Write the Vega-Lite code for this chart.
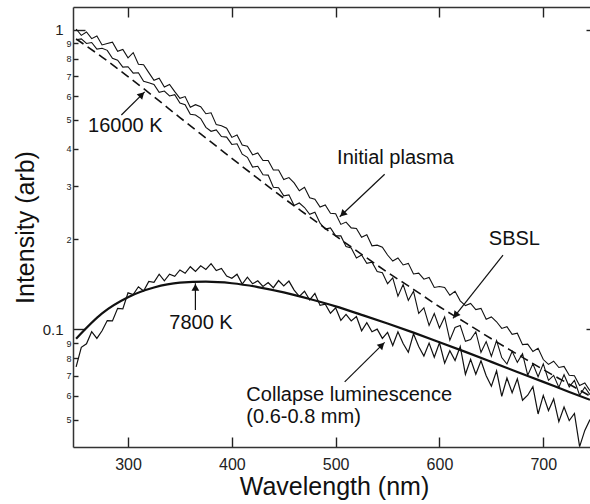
{
 "$schema": "https://vega.github.io/schema/vega-lite/v6.json",
 "width": 517, "height": 440,
 "autosize": {"type": "none"},
 "padding": {"left": 73, "top": 7, "right": 0, "bottom": 57},
 "config": {"view": {"stroke": null}, "font": "Liberation Sans",
  "axis": {"domainColor": "#333", "tickColor": "#222", "labelColor": "#222", "titleColor": "#111", "grid": false, "labelFont": "Liberation Sans", "titleFont": "Liberation Sans", "titleFontWeight": "normal", "domainWidth": 1.5, "tickWidth": 1.4}},
 "datasets": {
  "spec": [
   {"x":250,"ip":1.005,"sb":0.925,"cl":0.0750},{"x":255,"ip":0.957,"sb":0.931,"cl":0.0871},{"x":260,"ip":0.982,"sb":0.899,"cl":0.0895},{"x":265,"ip":0.933,"sb":0.906,"cl":0.0982},{"x":270,"ip":0.953,"sb":0.861,"cl":0.0933},{"x":275,"ip":0.889,"sb":0.867,"cl":0.0989},{"x":280,"ip":0.899,"sb":0.853,"cl":0.107},{"x":285,"ip":0.908,"sb":0.802,"cl":0.1067},{"x":290,"ip":0.847,"sb":0.791,"cl":0.1175},{"x":295,"ip":0.859,"sb":0.750,"cl":0.117},
   {"x":300,"ip":0.805,"sb":0.752,"cl":0.1324},{"x":305,"ip":0.838,"sb":0.716,"cl":0.1306},{"x":310,"ip":0.766,"sb":0.718,"cl":0.1387},{"x":315,"ip":0.764,"sb":0.673,"cl":0.1343},{"x":320,"ip":0.719,"sb":0.665,"cl":0.1445},{"x":325,"ip":0.678,"sb":0.656,"cl":0.1435},{"x":330,"ip":0.689,"sb":0.618,"cl":0.1528},{"x":335,"ip":0.644,"sb":0.624,"cl":0.1452},{"x":340,"ip":0.656,"sb":0.601,"cl":0.1528},{"x":345,"ip":0.621,"sb":0.607,"cl":0.1503},
   {"x":350,"ip":0.590,"sb":0.569,"cl":0.1578},{"x":355,"ip":0.598,"sb":0.562,"cl":0.1538},{"x":360,"ip":0.551,"sb":0.522,"cl":0.1618},{"x":365,"ip":0.562,"sb":0.519,"cl":0.156},{"x":370,"ip":0.553,"sb":0.505,"cl":0.163},{"x":375,"ip":0.524,"sb":0.472,"cl":0.1585},{"x":380,"ip":0.528,"sb":0.458,"cl":0.1656},{"x":385,"ip":0.482,"sb":0.463,"cl":0.157},{"x":390,"ip":0.478,"sb":0.440,"cl":0.1596},{"x":395,"ip":0.469,"sb":0.438,"cl":0.1507},
   {"x":400,"ip":0.437,"sb":0.414,"cl":0.148},{"x":405,"ip":0.445,"sb":0.416,"cl":0.1528},{"x":410,"ip":0.412,"sb":0.384,"cl":0.1416},{"x":415,"ip":0.408,"sb":0.375,"cl":0.1493},{"x":420,"ip":0.382,"sb":0.348,"cl":0.1419},{"x":425,"ip":0.388,"sb":0.350,"cl":0.1452},{"x":430,"ip":0.366,"sb":0.328,"cl":0.139},{"x":435,"ip":0.366,"sb":0.327,"cl":0.1432},{"x":440,"ip":0.340,"sb":0.298,"cl":0.1377},{"x":445,"ip":0.340,"sb":0.297,"cl":0.1455},
   {"x":450,"ip":0.316,"sb":0.279,"cl":0.1396},{"x":455,"ip":0.321,"sb":0.281,"cl":0.1449},{"x":460,"ip":0.308,"sb":0.259,"cl":0.1352},{"x":465,"ip":0.290,"sb":0.264,"cl":0.1288},{"x":470,"ip":0.298,"sb":0.255,"cl":0.134},{"x":475,"ip":0.275,"sb":0.242,"cl":0.1253},{"x":480,"ip":0.272,"sb":0.246,"cl":0.1318},{"x":485,"ip":0.256,"sb":0.226,"cl":0.1202},{"x":490,"ip":0.260,"sb":0.216,"cl":0.1213},{"x":495,"ip":0.244,"sb":0.218,"cl":0.1132},
   {"x":500,"ip":0.243,"sb":0.205,"cl":0.118},{"x":505,"ip":0.224,"sb":0.205,"cl":0.1072},{"x":510,"ip":0.228,"sb":0.189,"cl":0.1122},{"x":515,"ip":0.218,"sb":0.187,"cl":0.1067},{"x":520,"ip":0.217,"sb":0.173,"cl":0.1104},{"x":525,"ip":0.203,"sb":0.177,"cl":0.0989},{"x":530,"ip":0.207,"sb":0.166,"cl":0.1052},{"x":535,"ip":0.190,"sb":0.1675,"cl":0.0982},{"x":540,"ip":0.191,"sb":0.156,"cl":0.1002},{"x":545,"ip":0.188,"sb":0.1545,"cl":0.0933},
   {"x":550,"ip":0.177,"sb":0.142,"cl":0.0977},{"x":555,"ip":0.169,"sb":0.1486,"cl":0.0883},{"x":560,"ip":0.173,"sb":0.129,"cl":0.0982},{"x":565,"ip":0.164,"sb":0.141,"cl":0.0897},{"x":570,"ip":0.166,"sb":0.125,"cl":0.0839},{"x":575,"ip":0.153,"sb":0.134,"cl":0.0966},{"x":580,"ip":0.154,"sb":0.113,"cl":0.0877},{"x":585,"ip":0.147,"sb":0.118,"cl":0.0815},{"x":590,"ip":0.149,"sb":0.103,"cl":0.0900},{"x":595,"ip":0.138,"sb":0.113,"cl":0.0807},
   {"x":600,"ip":0.139,"sb":0.101,"cl":0.0902},{"x":605,"ip":0.138,"sb":0.110,"cl":0.0771},{"x":610,"ip":0.130,"sb":0.092,"cl":0.0849},{"x":615,"ip":0.134,"sb":0.1014,"cl":0.0787},{"x":620,"ip":0.1245,"sb":0.103,"cl":0.0877},{"x":625,"ip":0.120,"sb":0.0912,"cl":0.0708},{"x":630,"ip":0.122,"sb":0.0925,"cl":0.0794},{"x":635,"ip":0.1164,"sb":0.0982,"cl":0.0708},{"x":640,"ip":0.1175,"sb":0.0838,"cl":0.0786},{"x":645,"ip":0.108,"sb":0.0910,"cl":0.0700},
   {"x":650,"ip":0.110,"sb":0.0813,"cl":0.0646},{"x":655,"ip":0.106,"sb":0.0918,"cl":0.0727},{"x":660,"ip":0.1007,"sb":0.0805,"cl":0.0598},{"x":665,"ip":0.102,"sb":0.0766,"cl":0.0688},{"x":670,"ip":0.0962,"sb":0.0845,"cl":0.0615},{"x":675,"ip":0.0971,"sb":0.0776,"cl":0.0684},{"x":680,"ip":0.0889,"sb":0.0830,"cl":0.0580},{"x":685,"ip":0.0893,"sb":0.0703,"cl":0.0603},{"x":690,"ip":0.0843,"sb":0.0767,"cl":0.0644},{"x":695,"ip":0.0865,"sb":0.0695,"cl":0.0522},
   {"x":700,"ip":0.0793,"sb":0.0767,"cl":0.0602},{"x":705,"ip":0.0764,"sb":0.0676,"cl":0.0536},{"x":710,"ip":0.0783,"sb":0.0702,"cl":0.0586},{"x":715,"ip":0.0746,"sb":0.0640,"cl":0.0492},{"x":720,"ip":0.0752,"sb":0.0706,"cl":0.0551},{"x":725,"ip":0.0703,"sb":0.0643,"cl":0.0496},{"x":730,"ip":0.0700,"sb":0.0676,"cl":0.0524},{"x":735,"ip":0.0650,"sb":0.0603,"cl":0.0406},{"x":740,"ip":0.0662,"sb":0.0641,"cl":0.0460},{"x":745,"ip":0.0624,"sb":0.0605,"cl":0.0500}
  ],
  "bb": [
   {"x":250,"t16":0.931,"t78":0.0931},{"x":275,"t16":0.810,"t78":0.1131},{"x":300,"t16":0.697,"t78":0.1280},{"x":325,"t16":0.597,"t78":0.1379},{"x":350,"t16":0.509,"t78":0.1431},{"x":375,"t16":0.435,"t78":0.1442},{"x":400,"t16":0.372,"t78":0.1425},{"x":425,"t16":0.319,"t78":0.1384},{"x":450,"t16":0.274,"t78":0.1328},{"x":475,"t16":0.237,"t78":0.1262},{"x":500,"t16":0.205,"t78":0.1193},{"x":525,"t16":0.178,"t78":0.1118},{"x":550,"t16":0.155,"t78":0.1046},{"x":575,"t16":0.136,"t78":0.0975},{"x":600,"t16":0.119,"t78":0.0906},{"x":625,"t16":0.1053,"t78":0.0841},{"x":650,"t16":0.0930,"t78":0.0779},{"x":675,"t16":0.0826,"t78":0.0721},{"x":700,"t16":0.0734,"t78":0.0668},{"x":725,"t16":0.0656,"t78":0.0618},{"x":745,"t16":0.0599,"t78":0.0582}
  ],
  "notes": [
   {"label":"16000 K","x":297.4,"y":0.477,"side":"c"},
   {"label":"Initial plasma","x":557.6,"y":0.372,"side":"c"},
   {"label":"SBSL","x":672.2,"y":0.1996,"side":"c"},
   {"label":"7800 K","x":370.3,"y":0.1047,"side":"c"},
   {"label":"Collapse luminescence","x":414,"y":0.0604,"side":"l"},
   {"label":"(0.6-0.8 mm)","x":414,"y":0.0511,"side":"l"}
  ],
  "arrows": [
   {"name":"t16","x":293.6,"y":0.519,"x2":316.1,"y2":0.620},
   {"name":"ip","x":547.2,"y":0.3291,"x2":503.9,"y2":0.2375},
   {"name":"sb","x":661.2,"y":0.177,"x2":613.0,"y2":0.1088},
   {"name":"t78","x":364.9,"y":0.116,"x2":364.9,"y2":0.1424},
   {"name":"cl","x":508.7,"y":0.0668,"x2":547.2,"y2":0.0905}
  ],
  "heads": [
   {"name":"t16","x":313.3,"y":0.607},
   {"name":"ip","x":506.7,"y":0.2425},
   {"name":"sb","x":615.4,"y":0.1114},
   {"name":"t78","x":364.9,"y":0.138},
   {"name":"cl","x":544.5,"y":0.0886}
  ]
 },
 "layer": [
  {
   "data": {"name": "spec"},
   "mark": {"type": "line", "color": "#111", "strokeWidth": 1.1},
   "encoding": {
    "x": {"field": "x", "type": "quantitative", "scale": {"domain": [247, 745], "nice": false, "zero": false},
     "axis": {"values": [300, 400, 500, 600, 700], "tickSize": -10, "labelPadding": 19, "labelFontSize": 16, "title": "Wavelength (nm)", "titleFontSize": 25, "titleX": 261, "titleY": 47, "titleAlign": "center", "titleBaseline": "alphabetic"}},
    "y": {"field": "ip", "type": "quantitative", "scale": {"type": "log", "domain": [0.0405, 1.19], "nice": false},
     "axis": {"values": [1, 0.9, 0.8, 0.7, 0.6, 0.5, 0.4, 0.3, 0.2, 0.1, 0.09, 0.08, 0.07, 0.06, 0.05],
      "labelExpr": "datum.value == 1 ? '1' : datum.value == 0.1 ? '0.1' : datum.value > 0.1 ? format(datum.value*10, '.0f') : format(datum.value*100, '.0f')",
      "labelFontSize": {"condition": {"test": "datum.value == 1 || datum.value == 0.1", "value": 15}, "value": 9},
      "tickSize": {"condition": {"test": "datum.value == 1 || datum.value == 0.1", "value": -12}, "value": -5},
      "labelPadding": {"condition": {"test": "datum.value == 1 || datum.value == 0.1", "value": 22}, "value": 7},
      "labelBaseline": "middle",
      "title": "Intensity (arb)", "titleFontSize": 25, "titleX": -40, "titleY": 220, "titleAngle": -90, "titleAlign": "center", "titleBaseline": "alphabetic"}}
   }
  },
  {
   "data": {"name": "bb"},
   "mark": {"type": "line", "color": "#111", "strokeWidth": 1.6, "strokeDash": [9, 5], "interpolate": "monotone"},
   "encoding": {
    "x": {"field": "x", "type": "quantitative", "scale": {"domain": [247, 745], "nice": false, "zero": false},
     "axis": {"orient": "top", "values": [300, 400, 500, 600, 700], "tickSize": -10, "labels": false, "title": null}},
    "y": {"field": "t16", "type": "quantitative", "scale": {"type": "log", "domain": [0.0405, 1.19], "nice": false},
     "axis": {"orient": "right", "values": [1, 0.1], "tickSize": -4, "labels": false, "domain": false, "title": null}}
   }
  },
  {
   "data": {"name": "spec"},
   "mark": {"type": "line", "color": "#111", "strokeWidth": 1.1},
   "encoding": {
    "x": {"field": "x", "type": "quantitative", "scale": {"domain": [247, 745], "nice": false, "zero": false}, "axis": null},
    "y": {"field": "sb", "type": "quantitative", "scale": {"type": "log", "domain": [0.0405, 1.19], "nice": false}, "axis": null}
   }
  },
  {
   "data": {"name": "spec"},
   "mark": {"type": "line", "color": "#111", "strokeWidth": 1.2},
   "encoding": {
    "x": {"field": "x", "type": "quantitative", "scale": {"domain": [247, 745], "nice": false, "zero": false}, "axis": null},
    "y": {"field": "cl", "type": "quantitative", "scale": {"type": "log", "domain": [0.0405, 1.19], "nice": false}, "axis": null}
   }
  },
  {
   "data": {"name": "bb"},
   "mark": {"type": "line", "color": "#111", "strokeWidth": 2.2, "interpolate": "monotone"},
   "encoding": {
    "x": {"field": "x", "type": "quantitative", "scale": {"domain": [247, 745], "nice": false, "zero": false}, "axis": null},
    "y": {"field": "t78", "type": "quantitative", "scale": {"type": "log", "domain": [0.0405, 1.19], "nice": false}, "axis": null}
   }
  },
  {
   "data": {"name": "arrows"},
   "mark": {"type": "rule", "color": "#111", "strokeWidth": 1.2},
   "encoding": {
    "x": {"field": "x", "type": "quantitative", "scale": {"domain": [247, 745], "nice": false, "zero": false}, "axis": null},
    "y": {"field": "y", "type": "quantitative", "scale": {"type": "log", "domain": [0.0405, 1.19], "nice": false}, "axis": null},
    "x2": {"field": "x2"},
    "y2": {"field": "y2"}
   }
  },
  {
   "data": {"name": "heads"},
   "transform": [{"filter": "datum.name == 't16' || datum.name == 'cl'"}],
   "mark": {"type": "point", "shape": "triangle-up", "filled": true, "color": "#111", "opacity": 1, "size": 60, "angle": 45},
   "encoding": {
    "x": {"field": "x", "type": "quantitative", "scale": {"domain": [247, 745], "nice": false, "zero": false}, "axis": null},
    "y": {"field": "y", "type": "quantitative", "scale": {"type": "log", "domain": [0.0405, 1.19], "nice": false}, "axis": null}
   }
  },
  {
   "data": {"name": "heads"},
   "transform": [{"filter": "datum.name == 'ip'"}],
   "mark": {"type": "point", "shape": "triangle-up", "filled": true, "color": "#111", "opacity": 1, "size": 60, "angle": 226},
   "encoding": {
    "x": {"field": "x", "type": "quantitative", "scale": {"domain": [247, 745], "nice": false, "zero": false}, "axis": null},
    "y": {"field": "y", "type": "quantitative", "scale": {"type": "log", "domain": [0.0405, 1.19], "nice": false}, "axis": null}
   }
  },
  {
   "data": {"name": "heads"},
   "transform": [{"filter": "datum.name == 'sb'"}],
   "mark": {"type": "point", "shape": "triangle-up", "filled": true, "color": "#111", "opacity": 1, "size": 60, "angle": 218},
   "encoding": {
    "x": {"field": "x", "type": "quantitative", "scale": {"domain": [247, 745], "nice": false, "zero": false}, "axis": null},
    "y": {"field": "y", "type": "quantitative", "scale": {"type": "log", "domain": [0.0405, 1.19], "nice": false}, "axis": null}
   }
  },
  {
   "data": {"name": "heads"},
   "transform": [{"filter": "datum.name == 't78'"}],
   "mark": {"type": "point", "shape": "triangle-up", "filled": true, "color": "#111", "opacity": 1, "size": 60, "angle": 0},
   "encoding": {
    "x": {"field": "x", "type": "quantitative", "scale": {"domain": [247, 745], "nice": false, "zero": false}, "axis": null},
    "y": {"field": "y", "type": "quantitative", "scale": {"type": "log", "domain": [0.0405, 1.19], "nice": false}, "axis": null}
   }
  },
  {
   "data": {"name": "notes"},
   "transform": [{"filter": "datum.side == 'c'"}],
   "mark": {"type": "text", "fontSize": 20, "color": "#111", "align": "center", "baseline": "middle", "font": "Liberation Sans"},
   "encoding": {
    "x": {"field": "x", "type": "quantitative", "scale": {"domain": [247, 745], "nice": false, "zero": false}, "axis": null},
    "y": {"field": "y", "type": "quantitative", "scale": {"type": "log", "domain": [0.0405, 1.19], "nice": false}, "axis": null},
    "text": {"field": "label"}
   }
  },
  {
   "data": {"name": "notes"},
   "transform": [{"filter": "datum.side == 'l'"}],
   "mark": {"type": "text", "fontSize": 20, "color": "#111", "align": "left", "baseline": "middle", "font": "Liberation Sans"},
   "encoding": {
    "x": {"field": "x", "type": "quantitative", "scale": {"domain": [247, 745], "nice": false, "zero": false}, "axis": null},
    "y": {"field": "y", "type": "quantitative", "scale": {"type": "log", "domain": [0.0405, 1.19], "nice": false}, "axis": null},
    "text": {"field": "label"}
   }
  }
 ],
 "resolve": {"axis": {"x": "independent", "y": "independent"}}
}
